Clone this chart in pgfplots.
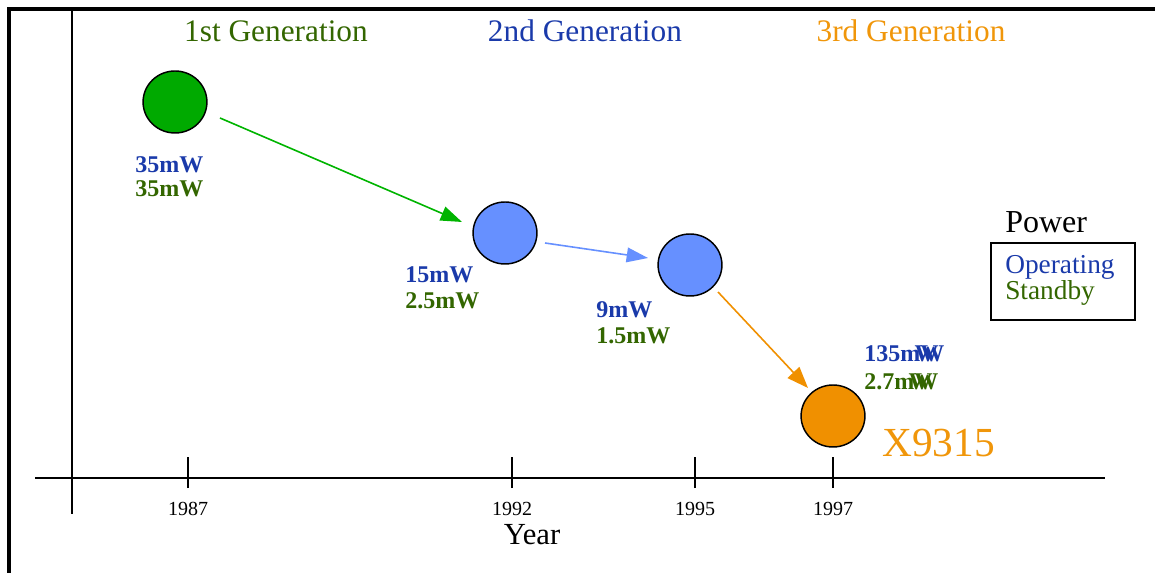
\documentclass[border=0pt]{standalone}
\usepackage{pgfplots}
\pgfplotsset{compat=1.18}
\usepackage{fontspec}
\setmainfont{Liberation Serif}
\usetikzlibrary{arrows.meta}
\definecolor{navy}{HTML}{1A3AAA}
\definecolor{olive}{HTML}{336600}
\definecolor{cgreen}{HTML}{00AA00}
\definecolor{agreen}{HTML}{00B400}
\definecolor{cblue}{HTML}{6690FF}
\definecolor{corange}{HTML}{F09000}
\definecolor{torange}{HTML}{F0960A}
\begin{document}
\begin{tikzpicture}[x=1pt,y=1pt]
\begin{axis}[
  width=866.25pt, height=429.75pt, scale only axis,
  xmin=0, xmax=1155, ymin=-95, ymax=478,
  axis x line=middle, axis y line=none,
  axis line style={draw=none},
  xtick={188,512,695,833},
  xticklabels={1987,1992,1995,1997},
  ytick=\empty,
  major tick length=23.25pt,
  tick align=center,
  xtick style={draw=black, line width=1.4pt, yshift=4.1pt},
  xticklabel style={font=\fontsize{15}{15}\selectfont, anchor=base, yshift=-16.5pt},
  clip=false,
]
% frame and axes
\draw[line width=2.3pt] (axis cs:9,-95) -- (axis cs:9,469) -- (axis cs:1155,469);
\draw[line width=1.5pt] (axis cs:35,0) -- (axis cs:1105,0);
\draw[line width=1.5pt] (axis cs:72,469) -- (axis cs:72,-36);
% arrows
\addplot[agreen, line width=1.2pt, -{Triangle[length=16pt, width=11pt]}] coordinates {(220,360) (462,256)};
\addplot[cblue, line width=1.2pt, -{Triangle[length=16pt, width=11pt]}] coordinates {(545,235) (648,220)};
\addplot[corange, line width=1.2pt, -{Triangle[length=16pt, width=12pt]}] coordinates {(718,186) (808,90)};
% circles
\addplot[only marks, mark=*, mark size=23.25pt, mark options={xscale=1.03, fill=cgreen, draw=black, line width=1.1pt}] coordinates {(175,376)};
\addplot[only marks, mark=*, mark size=23.25pt, mark options={xscale=1.03, fill=cblue, draw=black, line width=1.1pt}] coordinates {(505,245) (690,213)};
\addplot[only marks, mark=*, mark size=23.25pt, mark options={xscale=1.03, fill=corange, draw=black, line width=1.1pt}] coordinates {(833,62)};
% power labels
\begin{scope}[every node/.style={anchor=base west, inner sep=0pt, font=\fontsize{18}{18}\selectfont\bfseries}]
\node[text=navy] at (axis cs:135,305) {35mW};
\node[text=olive] at (axis cs:135,281) {35mW};
\node[text=navy] at (axis cs:405,195) {15mW};
\node[text=olive] at (axis cs:405,169) {2.5mW};
\node[text=navy] at (axis cs:596,160) {9mW};
\node[text=olive] at (axis cs:596,134) {1.5mW};
\node[text=navy] at (axis cs:864,116) {135\rlap{\hspace{0.6em}W}mW};
\node[text=olive] at (axis cs:864,88) {2.7\rlap{\hspace{0.6em}W}mW};
\end{scope}
% titles
\begin{scope}[every node/.style={anchor=base, inner sep=0pt, font=\fontsize{23.5}{23.5}\selectfont}]
\node[text=olive] at (axis cs:276,436) {1st Generation};
\node[text=navy] at (axis cs:585,436) {2nd Generation};
\node[text=torange] at (axis cs:911,436) {3rd Generation};
\end{scope}
% legend
\node[anchor=base west, inner sep=0pt, font=\fontsize{24}{24}\selectfont] at (axis cs:1005,245) {Power};
\draw[line width=1.3pt] (axis cs:991,235) rectangle (axis cs:1135,158);
\node[anchor=base west, inner sep=0pt, text=navy, font=\fontsize{20.5}{20.5}\selectfont] at (axis cs:1005,204) {Operating};
\node[anchor=base west, inner sep=0pt, text=olive, font=\fontsize{20.5}{20.5}\selectfont] at (axis cs:1005,178) {Standby};
% product
\node[anchor=base west, inner sep=0pt, text=torange, font=\fontsize{31}{31}\selectfont] at (axis cs:882,21) {X9315};
% axis label
\node[anchor=base, inner sep=0pt, font=\fontsize{23}{23}\selectfont] at (axis cs:532,-67) {Year};
\end{axis}
\pgfresetboundingbox
\path (current axis.south west) rectangle (current axis.north east);
\end{tikzpicture}
\end{document}
